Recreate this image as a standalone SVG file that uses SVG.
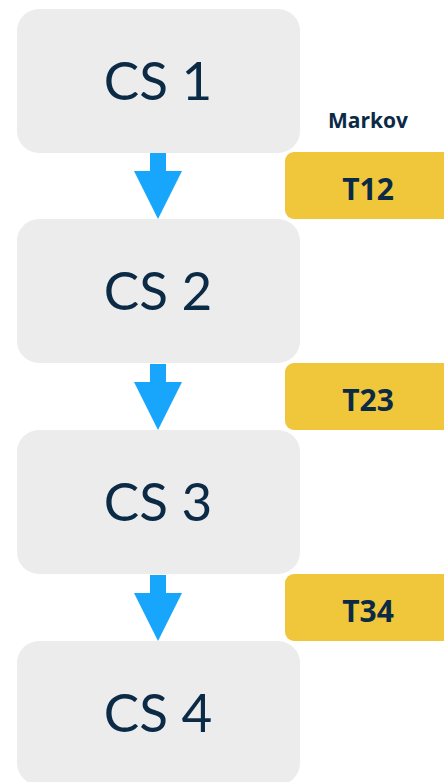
<svg xmlns="http://www.w3.org/2000/svg" width="444" height="782" viewBox="0 0 444 782">
<style>
.cs{fill:#ececec}
.cst{font-family:Lato,"Open Sans",sans-serif;font-size:53px;fill:#0b2a45;text-anchor:middle}
.arr{fill:#18a6fc}
.t{fill:#f0c63a}
.tt{font-family:"Open Sans",Lato,sans-serif;font-weight:bold;font-size:30px;fill:#0b2a45;text-anchor:middle}
.mk{font-family:"Open Sans",Lato,sans-serif;font-weight:bold;font-size:21px;fill:#0b2a45;text-anchor:middle}
</style>
<defs>
<path id="arrow" d="M150,153 H166 V171 H182 L158,219 L134,171 H150 Z"/>
</defs>
<g id="cs1"><rect class="cs" x="17" y="9" width="283" height="144" rx="22"/><text class="cst" x="158" y="100">CS 1</text></g>
<g id="cs2"><rect class="cs" x="17" y="219" width="283" height="144" rx="22"/><text class="cst" x="158" y="310">CS 2</text></g>
<g id="cs3"><rect class="cs" x="17" y="430" width="283" height="144" rx="22"/><text class="cst" x="158" y="521">CS 3</text></g>
<g id="cs4"><rect class="cs" x="17" y="641" width="283" height="144" rx="22"/><text class="cst" x="158" y="732">CS 4</text></g>
<g id="markov"><text class="mk" x="368" y="128">Markov</text></g>
<g id="t12"><rect class="t" x="285" y="152" width="170" height="67" rx="9"/><text class="tt" x="368" y="200">T12</text></g>
<g id="t23"><rect class="t" x="285" y="363" width="170" height="67" rx="9"/><text class="tt" x="368" y="411">T23</text></g>
<g id="t34"><rect class="t" x="285" y="574" width="170" height="67" rx="9"/><text class="tt" x="368" y="622">T34</text></g>
<g id="connectors">
<use href="#arrow" class="arr"/>
<use href="#arrow" class="arr" y="211"/>
<use href="#arrow" class="arr" y="422"/>
</g>
</svg>
